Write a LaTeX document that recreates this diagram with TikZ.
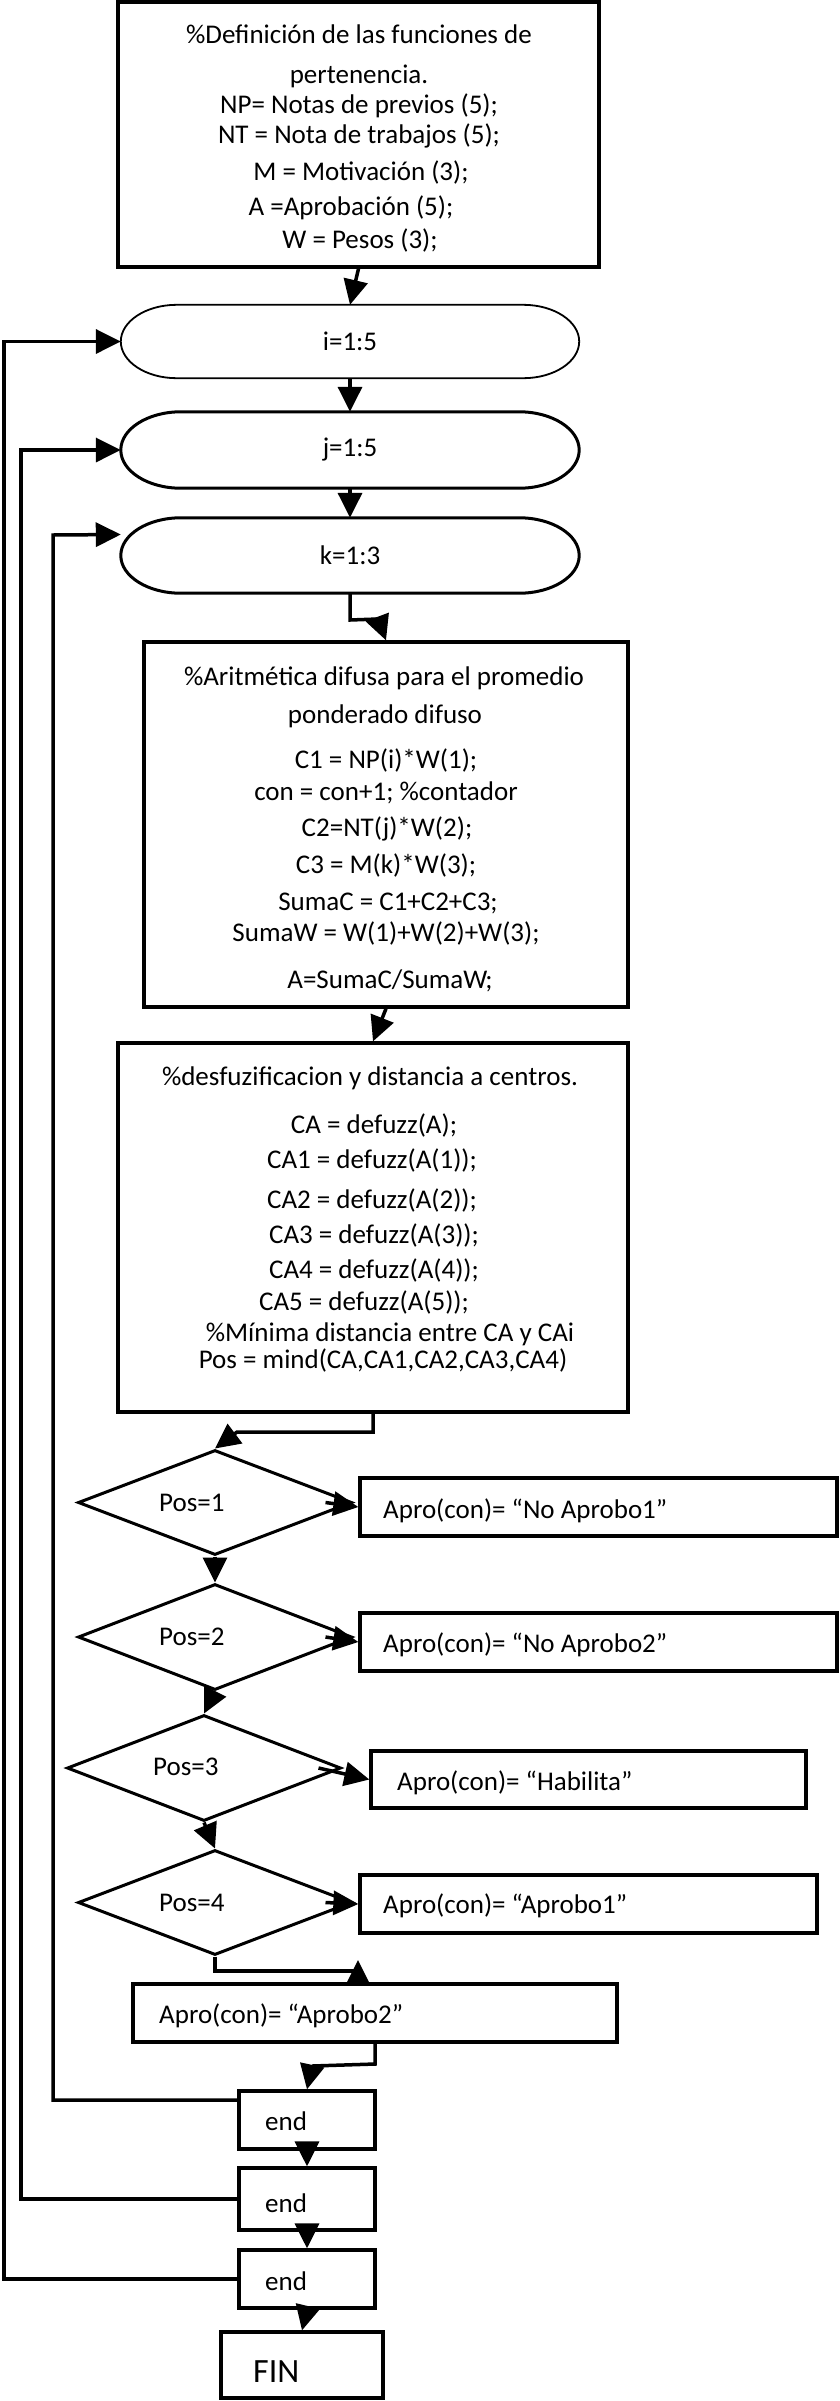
\documentclass[tikz,border=0pt]{standalone}
\usepackage{fontspec}
\setmainfont{Carlito}
\usetikzlibrary{arrows.meta,shapes.geometric,calc}
\tikzset{
  box/.style={draw, rectangle, line width=3.3pt, inner sep=0pt},
  dia/.style={draw, diamond, line width=3pt, inner sep=0pt},
  txt/.style={inner sep=0pt, font=\fontsize{27}{31}\selectfont},
  bigtxt/.style={inner sep=0pt, font=\fontsize{34}{40}\selectfont},
  capnode/.style={rectangle, draw=none, inner sep=0pt, minimum width=458pt, font=\fontsize{27}{31}\selectfont},
  conn/.style={line width=3.5pt, line join=miter, -{Triangle[length=25pt,width=24pt]}},
}
\newcommand\capsuleline[4]{% name, rx, ry, line width
  \draw[line width=#4] ([xshift=#2pt]#1.north west) -- ([xshift=-#2pt]#1.north east)
    .. controls +(0.552*#2,0) and +(0,-0.552*#3) .. (#1.east)
    .. controls +(0,0.552*#3) and +(0.552*#2,0) .. ([xshift=-#2pt]#1.south east)
    -- ([xshift=#2pt]#1.south west)
    .. controls +(-0.552*#2,0) and +(0,0.552*#3) .. (#1.west)
    .. controls +(0,-0.552*#3) and +(-0.552*#2,0) .. ([xshift=#2pt]#1.north west) -- cycle;}
\begin{document}
\begin{tikzpicture}[x=1pt,y=-1pt]
\useasboundingbox (0,0) rectangle (839,2401);

% ---- top box
\node[box, minimum width=481pt, minimum height=265pt] (top) at (358.5,134.5) {};
\node[txt, anchor=base] (t1) at (359,43) {\%Definición de las funciones de};
\node[txt, anchor=base] (t2) at (359,83) {pertenencia.};
\node[txt, anchor=base] (t3) at (359,113) {NP= Notas de previos (5);};
\node[txt, anchor=base] (t4) at (359,143) {NT = Nota de trabajos (5);};
\node[txt, anchor=base] (t5) at (361,180) {M = Motivación (3);};
\node[txt, anchor=base] (t6) at (351,215) {A =Aprobación (5);};
\node[txt, anchor=base] (t7) at (360,248) {W = Pesos (3);};

% ---- loop headers
\node[capnode, minimum height=73pt] (i) at (350,341.5) {i=1:5};
\capsuleline{i}{56}{36.5}{1.8pt}
\node[capnode, minimum height=76pt] (j) at (350,450) {j=1:5};
\capsuleline{j}{60}{38}{3pt}
\node[capnode, minimum height=75pt] (k) at (350,555.5) {k=1:3};
\capsuleline{k}{60}{37.5}{3pt}

% ---- arithmetic box
\node[box, minimum width=484pt, minimum height=365pt] (arit) at (386,824.5) {};
\node[txt, anchor=base] (a1) at (384,685) {\%Aritmética difusa para el promedio};
\node[txt, anchor=base] (a2) at (385,723) {ponderado difuso};
\node[txt, anchor=base] (a3) at (386,768) {C1 = NP(i)*W(1);};
\node[txt, anchor=base] (a4) at (386,800) {con = con+1; \%contador};
\node[txt, anchor=base] (a5) at (387,836) {C2=NT(j)*W(2);};
\node[txt, anchor=base] (a6) at (386,873) {C3 = M(k)*W(3);};
\node[txt, anchor=base] (a7) at (388,910) {SumaC = C1+C2+C3;};
\node[txt, anchor=base] (a8) at (386,941) {SumaW = W(1)+W(2)+W(3);};
\node[txt, anchor=base] (a9) at (390,988) {A=SumaC/SumaW;};

% ---- defuzzification box
\node[box, minimum width=510pt, minimum height=369pt] (desf) at (373,1227.5) {};
\node[txt, anchor=base] (d1t) at (370,1085) {\%desfuzificacion y distancia a centros.};
\node[txt, anchor=base] (d2t) at (374,1133) {CA = defuzz(A);};
\node[txt, anchor=base] (d3t) at (372,1168) {CA1 = defuzz(A(1));};
\node[txt, anchor=base] (d4t) at (372,1208) {CA2 = defuzz(A(2));};
\node[txt, anchor=base] (d5t) at (374,1243) {CA3 = defuzz(A(3));};
\node[txt, anchor=base] (d6t) at (374,1278) {CA4 = defuzz(A(4));};
\node[txt, anchor=base] (d7t) at (364,1310) {CA5 = defuzz(A(5));};
\node[txt, anchor=base] (d8t) at (390,1341) {\%Mínima distancia entre CA y CAi};
\node[txt, anchor=base] (d9t) at (383,1368) {Pos = mind(CA,CA1,CA2,CA3,CA4)};

% ---- decisions
\node[dia, minimum width=274pt, minimum height=105pt] (p1) at (215,1502.5) {};
\node[txt, anchor=base west] (p1t) at (159,1511) {Pos=1};
\node[dia, minimum width=274pt, minimum height=106pt] (p2) at (215,1637) {};
\node[txt, anchor=base west] (p2t) at (159,1645) {Pos=2};
\node[dia, minimum width=274pt, minimum height=106pt] (p3) at (204,1768) {};
\node[txt, anchor=base west] (p3t) at (153,1775) {Pos=3};
\node[dia, minimum width=274pt, minimum height=105pt] (p4) at (215,1902.5) {};
\node[txt, anchor=base west] (p4t) at (159,1911) {Pos=4};

% ---- results
\node[box, minimum width=477pt, minimum height=58pt] (b1) at (598.5,1507) {};
\node[txt, anchor=base west] (b1t) at (383,1518) {Apro(con)= “No Aprobo1”};
\node[box, minimum width=477pt, minimum height=58pt] (b2) at (598.5,1642) {};
\node[txt, anchor=base west] (b2t) at (383,1652) {Apro(con)= “No Aprobo2”};
\node[box, minimum width=435pt, minimum height=57pt] (b3) at (588.5,1779.5) {};
\node[txt, anchor=base west] (b3t) at (397,1790) {Apro(con)= “Habilita”};
\node[box, minimum width=457pt, minimum height=58pt] (b4) at (588.5,1904) {};
\node[txt, anchor=base west] (b4t) at (383,1913) {Apro(con)= “Aprobo1”};
\node[box, minimum width=484pt, minimum height=58pt] (b5) at (375,2013) {};
\node[txt, anchor=base west] (b5t) at (159,2023) {Apro(con)= “Aprobo2”};

% ---- ends
\node[box, minimum width=136pt, minimum height=58pt] (e1) at (307,2120) {};
\node[txt, anchor=base west] (e1t) at (265,2130) {end};
\node[box, minimum width=136pt, minimum height=62pt] (e2) at (307,2199) {};
\node[txt, anchor=base west] (e2t) at (265,2212) {end};
\node[box, minimum width=136pt, minimum height=58pt] (e3) at (307,2279) {};
\node[txt, anchor=base west] (e3t) at (265,2290) {end};
\node[box, minimum width=162pt, minimum height=66pt] (fin) at (302,2365) {};
\node[bigtxt, anchor=base west] (fint) at (253,2382) {FIN};

% ---- coordinates for bends
\coordinate (kb1) at (350,620);
\coordinate (kb2) at (378,619);
\coordinate (db1) at (373,1432);
\coordinate (db2) at (237,1432);
\coordinate (c4) at (358,1971);
\coordinate (c5) at (358,1983);
\coordinate (c6) at (358,1960);
\coordinate (bb1) at (375,2064);
\coordinate (bb2) at (312,2066);
\coordinate (L1) at (53,535);
\coordinate (L2) at (21,450);
\coordinate (L3) at (4,341.5);

% ---- connectors
\draw[conn] (top.south) -- (i.north);
\draw[conn] (i.south) -- (j.north);
\draw[conn] (j.south) -- (k.north);
\draw[conn] (k.south) -- (kb1) -- (kb2) -- (arit.north);
\draw[conn] (arit.south) -- (desf.north);
\draw[conn] (desf.south) -- (db1) -- (db2) -- (p1.north);
\draw[conn] ([xshift=-28pt]p1.east) -- (b1.west);
\draw[conn] (p1.south) -- (p2.north);
\draw[conn] ([xshift=-28pt]p2.east) -- (b2.west);
\draw[conn] (p2.south) -- (p3.north);
\draw[conn] ([xshift=-24pt]p3.east) -- (b3.west);
\draw[conn] (p3.south) -- (p4.north);
\draw[conn] ([xshift=-28pt]p4.east) -- (b4.west);
\draw[conn] (p4.south) |- (c4) -- (c5) -- (c6);
\draw[conn] (b5.south) -- (bb1) -- (bb2) -- (e1.north);
\draw[conn] ([yshift=4pt]e1.south) -- (e2.north);
\draw[conn] ([yshift=4pt]e2.south) -- (e3.north);
\draw[conn] (e3.south) -- (fin.north);

% ---- loop backs
\draw[conn] ([yshift=20pt]e1.west) -| (L1) -- ([yshift=21pt]k.west);
\draw[conn] (e2.west) -| (L2) -- (j.west);
\draw[conn] (e3.west) -| (L3) -- (i.west);
\end{tikzpicture}
\end{document}
